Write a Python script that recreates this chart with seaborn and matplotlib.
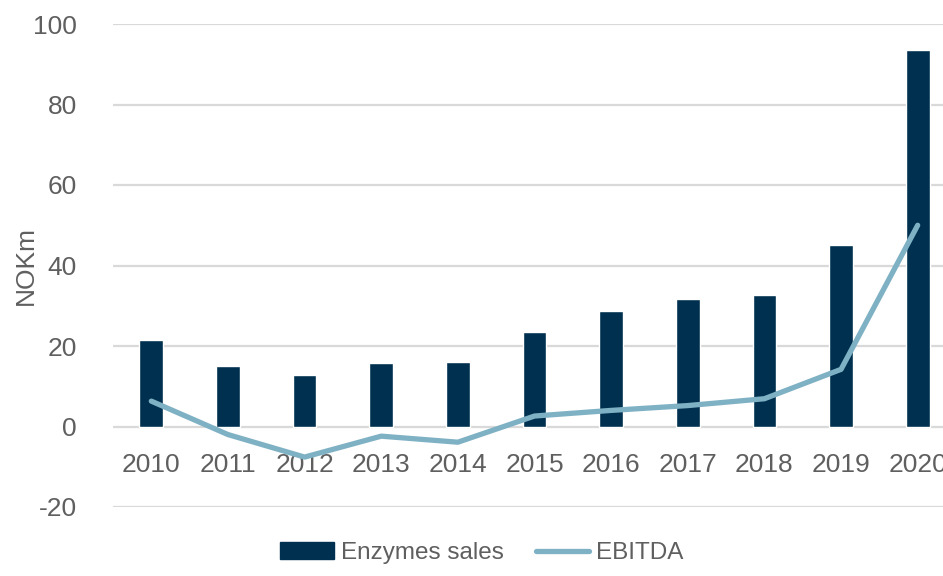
import numpy as np
import pandas as pd
import matplotlib
matplotlib.use("Agg")
import matplotlib.pyplot as plt
import seaborn as sns
from matplotlib.patches import Patch
from matplotlib.lines import Line2D

years = ["2010", "2011", "2012", "2013", "2014", "2015", "2016", "2017", "2018", "2019", "2020"]
enzymes_sales = [21.4, 15.1, 12.7, 15.8, 16.1, 23.5, 28.6, 31.6, 32.7, 45.1, 93.5]
ebitda = [6.3, -2.0, -7.6, -2.4, -3.9, 2.6, 4.0, 5.2, 6.9, 14.2, 50.0]
yticks = [-20, 0, 20, 40, 60, 80, 100]

bar_color = "#00304f"
line_color = "#7fb1c4"
text_color = "#5f5f5f"
grid_color = "#d9d9d9"

sns.set_style("white")
plt.rcParams['font.family'] = ['Liberation Sans', 'DejaVu Sans']
plt.rcParams['axes.unicode_minus'] = False

df = pd.DataFrame({"year": years, "sales": enzymes_sales, "ebitda": ebitda})

fig = plt.figure(figsize=(9.43, 5.76), dpi=100)
# plot area runs past the right edge, like the cropped original
ax = fig.add_axes([113 / 943, 1 - 507 / 576, 843 / 943, 483 / 576])

sns.barplot(data=df, x="year", y="sales", color=bar_color, width=0.31,
            saturation=1, ax=ax, zorder=3)
sns.pointplot(data=df, x="year", y="ebitda", color=line_color, markers="",
              linewidth=3.8, ax=ax, zorder=4)
for ln in ax.lines:
    ln.set_solid_capstyle("round")
    ln.set_solid_joinstyle("round")

ax.set_xlim(-0.5, 10.5)
ax.set_ylim(-20, 100)
ax.set_yticks(yticks)
ax.yaxis.grid(True, color=grid_color, linewidth=1.6, zorder=0)
ax.set_axisbelow(True)
for s in ax.spines.values():
    s.set_visible(False)
ax.spines["bottom"].set_position(("data", 0))

ax.tick_params(axis="both", length=0, labelsize=19, labelcolor=text_color)
ax.tick_params(axis="x", pad=19)
ax.tick_params(axis="y", pad=26)
ax.set_xlabel("")
ax.set_ylabel("NOKm", fontsize=19, color=text_color)
ax.yaxis.set_label_coords(-0.089, 0.5)

handles = [Patch(facecolor=bar_color, edgecolor=bar_color),
           Line2D([0], [0], color=line_color, linewidth=3.8)]
fig.legend(handles, ["Enzymes sales", "EBITDA"], loc="center",
           bbox_to_anchor=(482 / 943, 1 - 553 / 576), ncol=2, frameon=False,
           fontsize=17.5, labelcolor=text_color, handlelength=2.2,
           handletextpad=0.3, columnspacing=1.3)

fig.savefig("out.png", dpi=100)
